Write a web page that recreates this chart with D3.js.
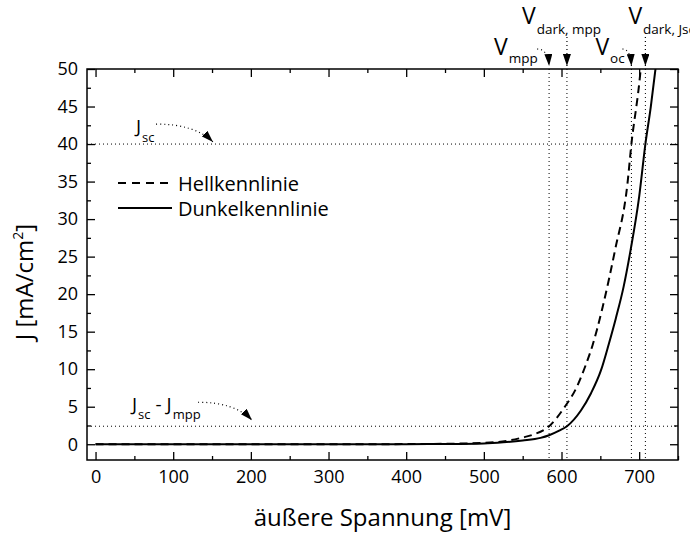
<!DOCTYPE html>
<html>
<head>
<meta charset="utf-8">
<script src="https://cdn.jsdelivr.net/npm/d3@7"></script>
<style>
  html, body { margin: 0; padding: 0; background: #fff; }
  svg { display: block; font-family: "Open Sans", "Noto Sans", sans-serif; }
</style>
</head>
<body>
<svg id="chart" width="690" height="536"></svg>
<script>
// ---- data ----
const voltageDark = [0, 100, 200, 300, 400, 450, 500, 525, 550, 573, 584, 597, 607, 625, 638, 651, 661, 670, 680, 689, 700, 708, 715, 721];
const currentDark = [0, 0, 0, 0, 0.01, 0.03, 0.1, 0.25, 0.5, 0.85, 1.2, 1.8, 2.4, 4.5, 6.8, 9.9, 13.4, 16.8, 21, 25.9, 33, 40, 45, 50];
const voltageLight = [0, 100, 200, 300, 400, 450, 500, 530, 550, 564, 584, 603, 620, 631, 640, 646, 653, 669, 685, 690, 700, 702];
const currentLight = [0, 0, 0, 0, 0.02, 0.06, 0.18, 0.45, 0.9, 1.3, 2.4, 4.8, 7.7, 10.5, 13.2, 15.4, 18.3, 25.9, 34.8, 40, 48, 50];
const xTicks = [0, 100, 200, 300, 400, 500, 600, 700];
const yTicks = [0, 5, 10, 15, 20, 25, 30, 35, 40, 45, 50];
const seriesNames = ["Hellkennlinie", "Dunkelkennlinie"];
const Jsc = 40, JscMinusJmpp = 2.4;
const Vmpp = 584, VdarkMpp = 607, Voc = 690, VdarkJsc = 708;
const xTitle = "äußere Spannung [mV]";

// ---- layout ----
const svg = d3.select("#chart");
const L = 87, R = 678, T = 69, B = 460;
const x = d3.scaleLinear().domain([-11, 750]).range([L, R]);
const y = d3.scaleLinear().domain([-2.1, 50]).range([B, T]);

// defs: arrowhead
svg.append("defs").append("marker")
  .attr("id", "arr").attr("markerUnits", "userSpaceOnUse")
  .attr("viewBox", "0 0 12 8").attr("refX", 12).attr("refY", 4)
  .attr("markerWidth", 12).attr("markerHeight", 8).attr("orient", "auto")
  .append("path").attr("d", "M0,0 L12,4 L0,8 Z").attr("fill", "#000");

svg.append("clipPath").attr("id", "plotclip")
  .append("rect").attr("x", L).attr("y", T).attr("width", R - L).attr("height", B - T);

// reference dotted lines
const refG = svg.append("g").attr("stroke", "#000").attr("stroke-width", 1)
  .attr("stroke-dasharray", "1,3").attr("fill", "none");
[Jsc, JscMinusJmpp].forEach(v => {
  refG.append("line").attr("x1", L).attr("x2", R).attr("y1", y(v)).attr("y2", y(v));
});
[Vmpp, VdarkMpp, Voc, VdarkJsc].forEach(v => {
  refG.append("line").attr("x1", x(v)).attr("x2", x(v)).attr("y1", T).attr("y2", B);
});

// curves
const dark = voltageDark.map((v, i) => [v, currentDark[i]]);
const light = voltageLight.map((v, i) => [v, currentLight[i]]);
const line = d3.line().x(d => x(d[0])).y(d => y(d[1])).curve(d3.curveMonotoneX);
const curves = svg.append("g").attr("clip-path", "url(#plotclip)");
curves.append("path").attr("d", line(dark)).attr("fill", "none")
  .attr("stroke", "#000").attr("stroke-width", 2);
curves.append("path").attr("d", line(light)).attr("fill", "none")
  .attr("stroke", "#000").attr("stroke-width", 2).attr("stroke-dasharray", "8,5");

// axes (inward ticks, all four sides)
function addAxis(axis, transform) {
  const g = svg.append("g").attr("transform", transform).call(axis);
  g.select(".domain").remove();
  g.selectAll(".tick line").attr("stroke", "#000").attr("stroke-width", 1.3);
  return g;
}
const fs = 18;
const xMinor = d3.range(0, 751, 50).filter(v => v % 100 !== 0);
const yMinor = d3.range(2.5, 50, 5);
const gb = addAxis(d3.axisBottom(x).tickValues(xTicks).tickSize(-8).tickPadding(10), `translate(0,${B})`);
gb.selectAll("text").attr("font-size", fs).attr("fill", "#000").attr("font-family", "Open Sans");
addAxis(d3.axisBottom(x).tickValues(xMinor).tickSize(-4).tickFormat(""), `translate(0,${B})`);
addAxis(d3.axisTop(x).tickValues(xTicks).tickSize(-8).tickFormat(""), `translate(0,${T})`);
addAxis(d3.axisTop(x).tickValues(xMinor).tickSize(-4).tickFormat(""), `translate(0,${T})`);
const gl = addAxis(d3.axisLeft(y).tickValues(yTicks).tickSize(-8).tickPadding(9), `translate(${L},0)`);
gl.selectAll("text").attr("font-size", fs).attr("fill", "#000").attr("font-family", "Open Sans");
addAxis(d3.axisLeft(y).tickValues(yMinor).tickSize(-4).tickFormat(""), `translate(${L},0)`);
addAxis(d3.axisRight(y).tickValues(yTicks).tickSize(-8).tickFormat(""), `translate(${R},0)`);
addAxis(d3.axisRight(y).tickValues(yMinor).tickSize(-4).tickFormat(""), `translate(${R},0)`);

// frame
svg.append("rect").attr("x", L).attr("y", T).attr("width", R - L).attr("height", B - T)
  .attr("fill", "none").attr("stroke", "#000").attr("stroke-width", 1.5);

// axis titles
svg.append("text").attr("x", (L + R) / 2).attr("y", 526).attr("text-anchor", "middle")
  .attr("font-size", 24).text(xTitle);
const yt = svg.append("text").attr("transform", `translate(33,282) rotate(-90)`)
  .attr("text-anchor", "middle").attr("font-size", 24);
yt.append("tspan").text("J [mA/cm");
yt.append("tspan").attr("font-size", 14).attr("dy", -10).text("2");
yt.append("tspan").attr("dy", 10).text("]");

// legend
const lg = svg.append("g");
const legY = [183, 208];
lg.append("line").attr("x1", 118).attr("x2", 170).attr("y1", legY[0]).attr("y2", legY[0])
  .attr("stroke", "#000").attr("stroke-width", 2).attr("stroke-dasharray", "8,6");
lg.append("line").attr("x1", 118).attr("x2", 172).attr("y1", legY[1]).attr("y2", legY[1])
  .attr("stroke", "#000").attr("stroke-width", 2);
seriesNames.forEach((n, i) => {
  lg.append("text").attr("x", 178).attr("y", legY[i] + 8).attr("font-size", 20).text(n);
});

// annotations
function label(xp, yp, main, sub, subDy, mainSize, subSize) {
  const t = svg.append("text").attr("x", xp).attr("y", yp).attr("font-size", mainSize);
  t.append("tspan").text(main);
  t.append("tspan").attr("font-size", subSize).attr("dy", subDy).attr("dx", 1).text(sub);
  return t;
}
function arrow(d) {
  svg.append("path").attr("d", d).attr("fill", "none").attr("stroke", "#000")
    .attr("stroke-width", 1.2).attr("stroke-dasharray", "1,3").attr("marker-end", "url(#arr)");
}
const tipY = T - 3;
label(x(Vmpp) - 55, 55, "V", "mpp", 8, 23, 13.5);
arrow(`M${x(Vmpp) - 12},49 Q${x(Vmpp) - 1},49 ${x(Vmpp)},${tipY}`);
label(x(VdarkMpp) - 45, 24, "V", "dark, mpp", 10, 23, 13.5);
arrow(`M${x(VdarkMpp)},37 L${x(VdarkMpp)},${tipY}`);
label(x(Voc) - 36, 55, "V", "oc", 8, 23, 13.5);
arrow(`M${x(Voc) - 9},49 Q${x(Voc) - 1},49 ${x(Voc)},${tipY}`);
label(x(VdarkJsc) - 17, 24, "V", "dark, Jsc", 10, 23, 13.5);
arrow(`M${x(VdarkJsc)},37 L${x(VdarkJsc)},${tipY}`);
label(136, y(Jsc) - 11, "J", "sc", 9, 19, 13);
arrow(`M156,${y(Jsc) - 20} Q195,${y(Jsc) - 20} 213,${y(Jsc) - 2}`);
const jt = svg.append("text").attr("x", 132).attr("y", y(JscMinusJmpp) - 15).attr("font-size", 19);
jt.append("tspan").text("J");
jt.append("tspan").attr("font-size", 13).attr("dy", 8).attr("dx", 1).text("sc");
jt.append("tspan").attr("dy", -8).text(" - J");
jt.append("tspan").attr("font-size", 13).attr("dy", 8).attr("dx", 1).text("mpp");
arrow(`M198,${y(JscMinusJmpp) - 24} Q235,${y(JscMinusJmpp) - 24} 252,${y(JscMinusJmpp) - 6}`);
</script>
</body>
</html>
